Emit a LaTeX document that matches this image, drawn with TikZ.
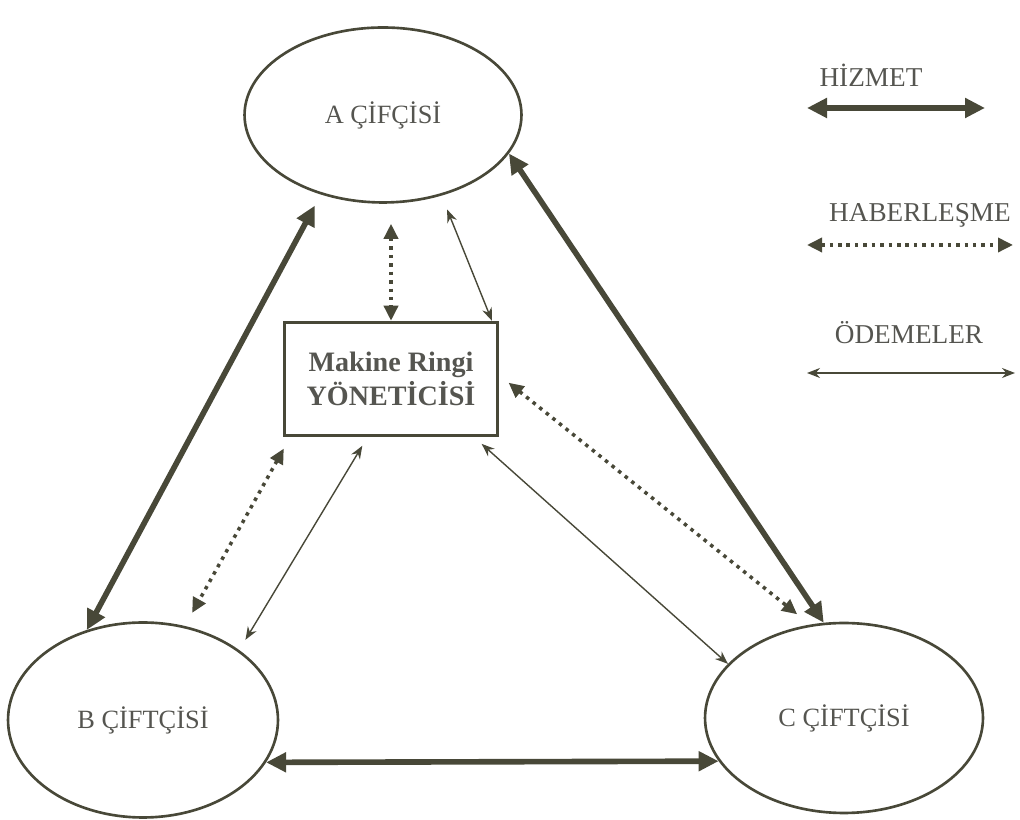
\documentclass[tikz,border=0pt]{standalone}
\usepackage{fontspec}
\setmainfont{Liberation Serif}
\usepackage{xcolor}
\usepackage{tikz}
\usetikzlibrary{shapes.geometric, arrows.meta, positioning, calc}

\definecolor{ink}{RGB}{72,72,56}
\definecolor{txt}{RGB}{85,85,80}

\begin{document}
\begin{tikzpicture}[
  x=0.02cm, y=0.02cm,
  farmer/.style={ellipse, draw=ink, line width=1.5pt, inner sep=0pt, font=\fontsize{15}{17}\selectfont, text=txt},
  manager/.style={rectangle, draw=ink, line width=2pt, minimum width=4.26cm, minimum height=2.26cm, align=center, font=\bfseries\fontsize{16}{19}\selectfont, text=txt},
  legend/.style={font=\fontsize{15.5}{17}\selectfont, text=txt},
  hizmet/.style={ink, line width=3.2pt, {Triangle[length=4mm,width=3.8mm]}-{Triangle[length=4mm,width=3.8mm]}},
  haber/.style={ink, line width=2pt, dash pattern=on 2pt off 2.8pt, {Triangle[length=3mm,width=2.8mm]}-{Triangle[length=3mm,width=2.8mm]}},
  odeme/.style={ink, line width=0.8pt, {Stealth[length=2.6mm,width=2mm]}-{Stealth[length=2.6mm,width=2mm]}}
]
  \useasboundingbox (0,0) rectangle (1020,820);

  \node[farmer, minimum width=5.54cm, minimum height=3.5cm] (A) at (383,705) {A ÇİFÇİSİ};
  \node[farmer, minimum width=5.4cm, minimum height=3.9cm] (B) at (143,100) {B ÇİFTÇİSİ};
  \node[farmer, minimum width=5.56cm, minimum height=3.8cm] (C) at (844,102) {C ÇİFTÇİSİ};
  \node[manager] (M) at (391,441) {Makine Ringi\\YÖNETİCİSİ};

  % legend
  \node[legend] (hz) at (871,745) {HİZMET};
  \coordinate (hz1) at (807,712);
  \coordinate (hz2) at (985,712);
  \node[legend] (hb) at (920,605) {HABERLEŞME};
  \coordinate (hb1) at (807,575);
  \coordinate (hb2) at (1013,575);
  \node[legend] (od) at (909,487) {ÖDEMELER};
  \coordinate (od1) at (807,447);
  \coordinate (od2) at (1015,447);
  \draw[hizmet] (hz1) -- (hz2);
  \draw[haber] (hb1) -- (hb2);
  \draw[odeme] (od1) -- (od2);

  % farmers
  \draw[hizmet, shorten <=0.25cm] (A.232) -- (B.122);
  \draw[hizmet] (A.-17) -- (C.102);
  \draw[hizmet] (B.-19) -- (C.199.5);

  % manager
  \draw[haber, shorten <=0.4cm] (M.north |- A.south) -- (M.north);
  \draw[odeme, shorten <=0.3cm] (A.-54) -- (M.30);
  \draw[haber, shorten <=0.24cm, shorten >=0.33cm] (M.2) -- (C.110);
  \draw[odeme, shorten <=0.2cm] (M.-35) -- (C.155);
  \draw[haber, shorten <=0.26cm, shorten >=0.3cm] (M.-150) -- (B.66);
  \draw[odeme, shorten <=0.2cm, shorten >=0.24cm] (M.-112) -- (B.36);
\end{tikzpicture}
\end{document}
